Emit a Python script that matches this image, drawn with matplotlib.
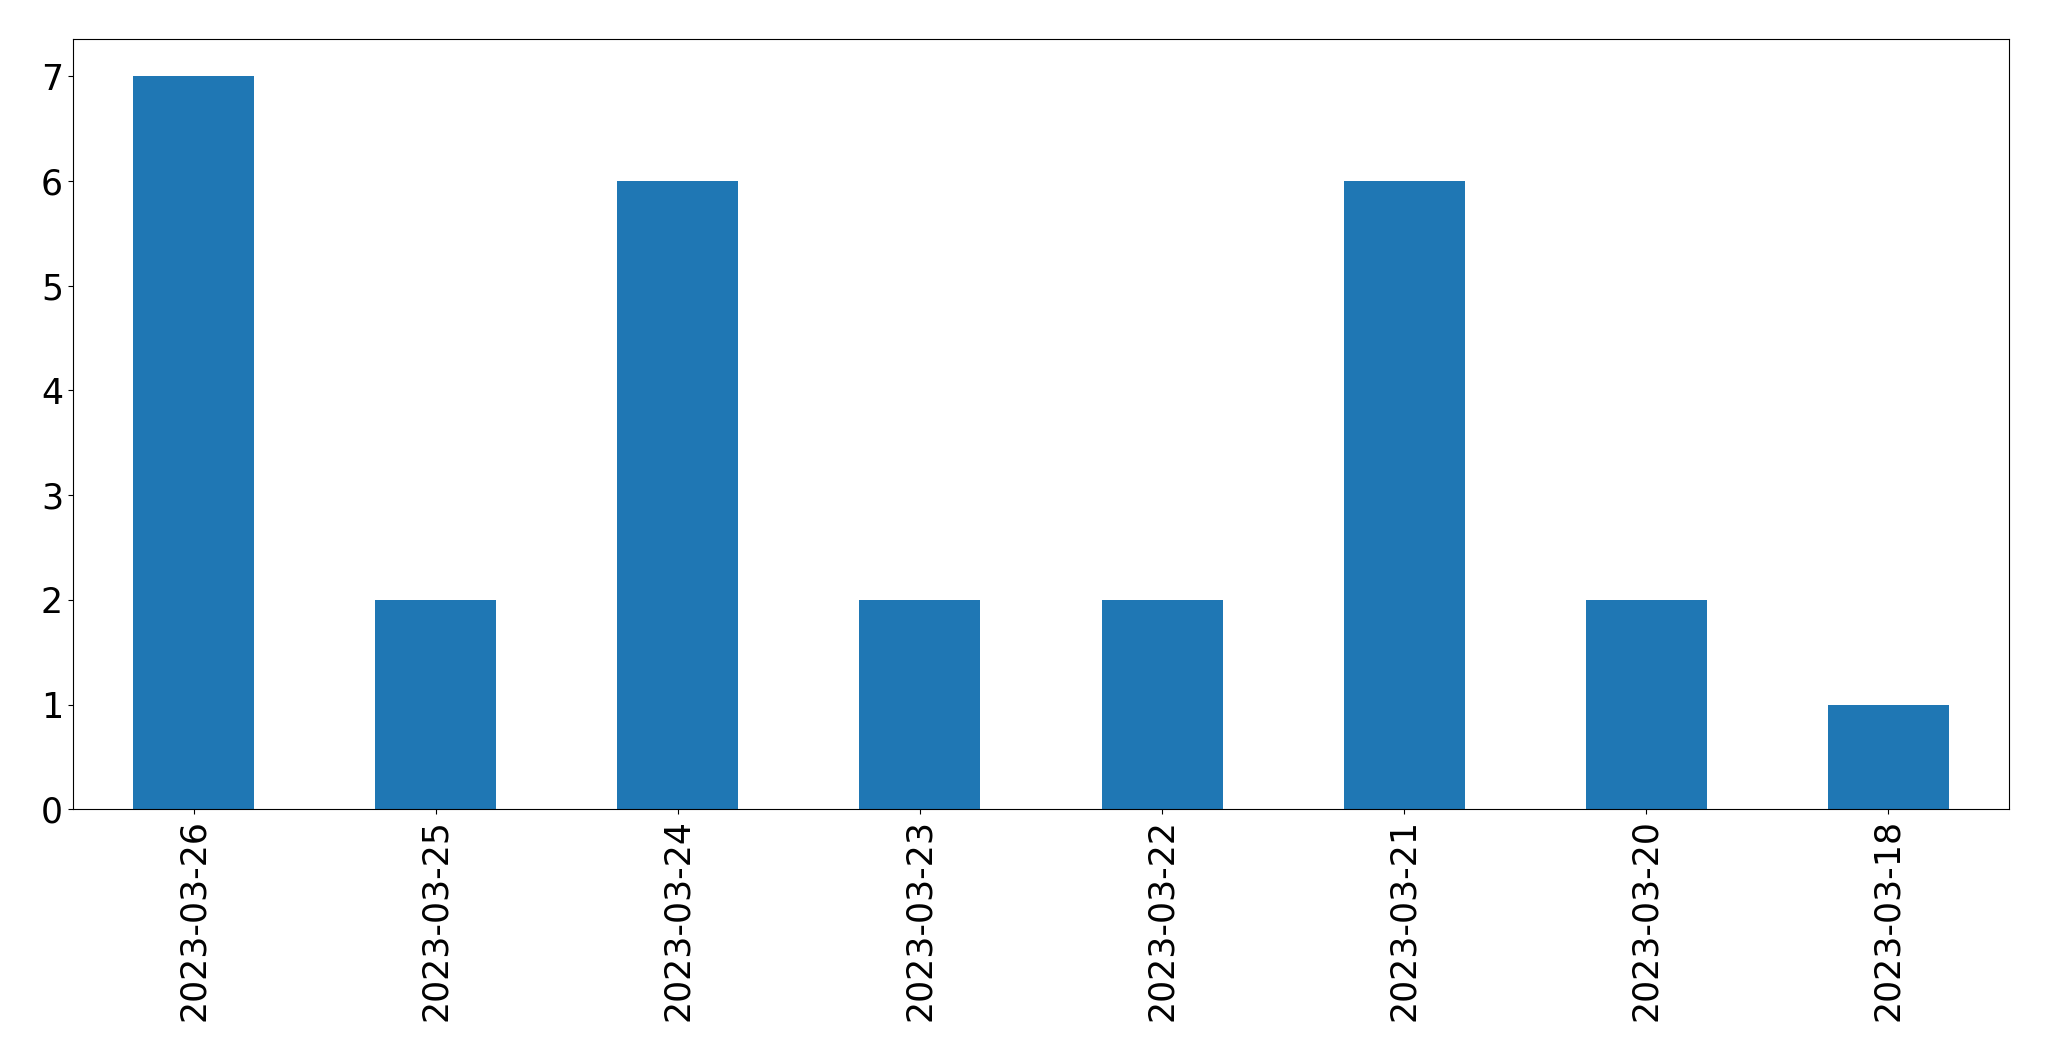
import matplotlib
matplotlib.use("Agg")

import matplotlib.pyplot as plt
import pandas as pd

dates = ["2023-03-26", "2023-03-25", "2023-03-24", "2023-03-23",
         "2023-03-22", "2023-03-21", "2023-03-20", "2023-03-18"]
counts = [7, 2, 6, 2, 2, 6, 2, 1]


def main() -> int:
    series = pd.Series(counts, index=dates)

    fig = plt.figure(figsize=(20.49, 10.61), dpi=100)
    ax = fig.add_axes([0.0355, 0.2372, 0.9451, 0.7257])
    series.plot(kind="bar", ax=ax, color="#1f77b4", fontsize=25)
    ax.tick_params(axis="x", labelrotation=90)
    fig.savefig("out.png", dpi=100)
    plt.close(fig)
    return 0


if __name__ == "__main__":
    raise SystemExit(main())
